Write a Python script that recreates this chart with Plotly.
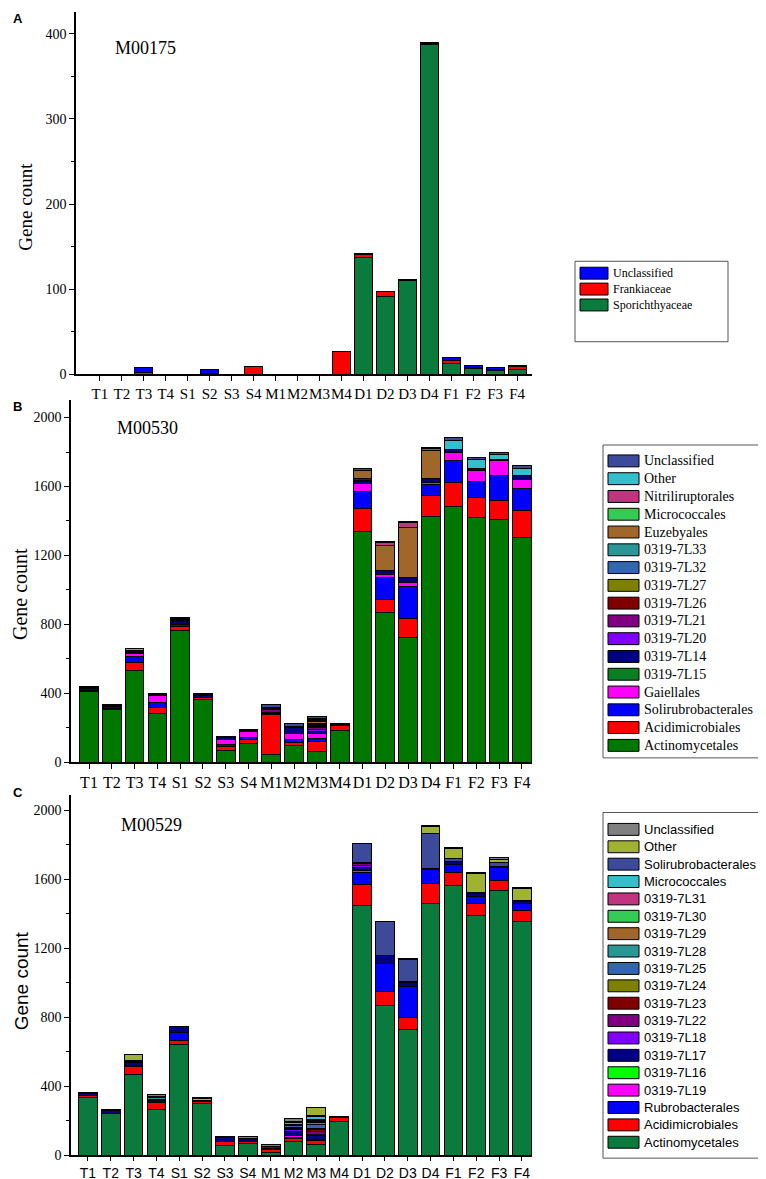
import plotly.graph_objects as go

W, H = 766, 1179
samples = ["T1", "T2", "T3", "T4", "S1", "S2", "S3", "S4", "M1", "M2", "M3", "M4",
           "D1", "D2", "D3", "D4", "F1", "F2", "F3", "F4"]

# ---------------- Panel A (M00175) ----------------
a_names = ["Sporichthyaceae", "Frankiaceae", "Unclassified"]
a_colors = ["#0A7A3D", "#FF0000", "#0000FF"]
a_sporichthyaceae = [0, 0, 2, 0, 0, 1, 0, 0, 0, 0, 0, 0, 137, 92, 110, 388, 13, 7, 5, 6]
a_frankiaceae = [0, 0, 0, 0, 0, 0, 0, 9, 0, 0, 0, 27, 4, 5, 1, 1, 4, 1, 1, 3]
a_unclassified = [0, 0, 6, 0, 0, 5, 0, 0, 0, 0, 0, 0, 1, 0, 0, 1, 3, 2, 2, 2]
a_series = [a_sporichthyaceae, a_frankiaceae, a_unclassified]

# ---------------- Panel B (M00530) ----------------
b_names = ["Actinomycetales", "Acidimicrobiales", "Solirubrobacterales", "Gaiellales",
           "0319-7L15", "0319-7L14", "0319-7L20", "0319-7L21", "0319-7L26", "0319-7L27",
           "0319-7L32", "0319-7L33", "Euzebyales", "Micrococcales", "Nitriliruptorales",
           "Other", "Unclassified"]
b_colors = ["#007800", "#FF0000", "#0000FF", "#FF00FF", "#087F22", "#000080", "#8000FF",
            "#800080", "#800000", "#808000", "#3366B0", "#2A9696", "#A0662A", "#33CC55",
            "#C0357F", "#33BFCC", "#3D4A9A"]
b_actinomycetales = [410, 307, 530, 280, 765, 365, 65, 111, 44, 96, 63, 184, 1341, 870, 722, 1427, 1485, 1418, 1406, 1302]
b_acidimicrobiales = [8, 3, 46, 35, 25, 11, 25, 19, 231, 19, 58, 27, 134, 73, 114, 119, 140, 119, 112, 160]
b_solirubrobacterales = [0, 0, 35, 31, 8, 0, 12, 14, 6, 16, 15, 0, 96, 129, 182, 68, 123, 92, 144, 125]
b_gaiellales = [0, 0, 21, 38, 6, 0, 32, 31, 0, 38, 33, 0, 48, 19, 25, 11, 50, 65, 86, 52]
b_7l15 = [0] * 20
b_7l14 = [8, 15, 6, 8, 10, 10, 8, 6, 10, 30, 8, 8, 10, 19, 29, 23, 14, 8, 10, 23]
b_7l20 = [0, 0, 0, 0, 6, 0, 0, 0, 0, 0, 10, 0, 0, 0, 0, 0, 0, 0, 0, 0]
b_7l21 = [0, 0, 4, 0, 8, 0, 0, 0, 12, 10, 12, 0, 8, 0, 0, 0, 0, 0, 0, 0]
b_7l26 = [6, 5, 0, 0, 4, 6, 0, 0, 8, 0, 8, 0, 11, 0, 0, 0, 0, 0, 0, 0]
b_7l27 = [0, 0, 0, 0, 0, 0, 0, 0, 0, 0, 6, 0, 0, 0, 0, 0, 0, 0, 0, 0]
b_7l32 = [0, 0, 5, 0, 0, 0, 0, 0, 0, 0, 8, 0, 0, 0, 0, 0, 0, 0, 0, 0]
b_7l33 = [0, 0, 0, 0, 0, 0, 0, 0, 0, 0, 6, 0, 0, 0, 0, 0, 0, 0, 0, 0]
b_euzebyales = [0, 0, 0, 0, 0, 0, 0, 0, 6, 0, 8, 0, 42, 150, 288, 160, 0, 0, 0, 0]
b_micrococcales = [0, 0, 0, 0, 0, 0, 0, 0, 0, 0, 6, 0, 0, 0, 0, 0, 0, 0, 0, 0]
b_nitriliruptorales = [0, 0, 0, 0, 0, 0, 0, 0, 0, 0, 6, 0, 0, 13, 29, 13, 0, 0, 0, 0]
b_other = [0, 0, 10, 0, 0, 0, 0, 0, 0, 0, 6, 0, 0, 0, 0, 0, 57, 56, 29, 44]
b_unclassified = [6, 4, 0, 8, 9, 8, 8, 7, 15, 18, 12, 8, 16, 6, 6, 4, 14, 11, 11, 15]
b_series = [b_actinomycetales, b_acidimicrobiales, b_solirubrobacterales, b_gaiellales,
            b_7l15, b_7l14, b_7l20, b_7l21, b_7l26, b_7l27, b_7l32, b_7l33, b_euzebyales,
            b_micrococcales, b_nitriliruptorales, b_other, b_unclassified]

# ---------------- Panel C (M00529) ----------------
c_names = ["Actinomycetales", "Acidimicrobiales", "Rubrobacterales", "0319-7L19", "0319-7L16",
           "0319-7L17", "0319-7L18", "0319-7L22", "0319-7L23", "0319-7L24", "0319-7L25",
           "0319-7L28", "0319-7L29", "0319-7L30", "0319-7L31", "Micrococcales",
           "Solirubrobacterales", "Other", "Unclassified"]
c_colors = ["#0A7A3D", "#FF0000", "#0000FF", "#FF00FF", "#00FF00", "#000080", "#8000FF",
            "#800080", "#800000", "#808000", "#3366B0", "#2A9696", "#A0662A", "#33CC55",
            "#C0357F", "#33BFCC", "#3D4A9A", "#A0B232", "#808080"]
c_actinomycetales = [336, 240, 470, 265, 643, 301, 54, 67, 13, 81, 61, 196, 1449, 869, 729, 1460, 1564, 1391, 1535, 1357]
c_acidimicrobiales = [12, 3, 42, 38, 23, 12, 23, 14, 20, 15, 25, 24, 119, 77, 71, 116, 77, 69, 56, 63]
c_rubrobacterales = [0, 0, 8, 0, 44, 0, 0, 0, 0, 4, 0, 0, 69, 167, 179, 80, 42, 41, 79, 38]
c_7l19 = [0, 0, 0, 0, 0, 0, 0, 0, 0, 15, 6, 0, 13, 0, 0, 0, 0, 0, 0, 0]
c_7l16 = [0] * 20
c_7l17 = [10, 15, 15, 12, 38, 6, 25, 18, 8, 20, 20, 0, 20, 44, 20, 4, 21, 15, 6, 14]
c_7l18 = [0, 0, 0, 0, 0, 0, 0, 0, 0, 12, 8, 0, 10, 0, 0, 0, 0, 0, 0, 0]
c_7l22 = [0, 0, 6, 0, 0, 0, 0, 0, 0, 10, 15, 0, 8, 0, 0, 0, 0, 0, 0, 0]
c_7l23 = [0, 0, 0, 0, 0, 0, 0, 0, 8, 6, 12, 0, 0, 0, 8, 0, 0, 0, 0, 0]
c_7l24 = [0, 0, 0, 0, 0, 0, 0, 0, 0, 0, 10, 0, 0, 0, 0, 0, 0, 0, 0, 0]
c_7l25 = [0, 0, 8, 10, 0, 0, 0, 0, 0, 8, 20, 0, 10, 0, 0, 0, 0, 0, 0, 0]
c_7l28 = [0, 0, 0, 8, 0, 0, 0, 0, 0, 6, 12, 0, 0, 0, 0, 0, 0, 0, 0, 0]
c_7l29 = [0, 0, 0, 0, 0, 0, 0, 0, 0, 0, 8, 0, 0, 0, 0, 0, 0, 0, 0, 0]
c_7l30 = [0, 0, 0, 0, 0, 0, 0, 0, 0, 12, 6, 0, 0, 0, 0, 0, 0, 0, 0, 0]
c_7l31 = [0, 0, 0, 0, 0, 0, 0, 0, 0, 0, 6, 0, 0, 0, 0, 0, 0, 0, 0, 0]
c_micrococcales = [0, 0, 0, 0, 0, 0, 0, 0, 0, 0, 13, 0, 0, 0, 0, 0, 0, 0, 0, 0]
c_solirubrobacterales = [0, 0, 0, 8, 0, 0, 0, 0, 0, 8, 10, 0, 106, 196, 125, 207, 14, 6, 21, 6]
c_other = [0, 0, 32, 0, 0, 10, 0, 0, 0, 0, 42, 0, 0, 0, 0, 38, 60, 109, 17, 67]
c_unclassified = [7, 7, 0, 12, 0, 7, 7, 7, 12, 14, 0, 5, 0, 0, 10, 4, 7, 6, 9, 4]
c_series = [c_actinomycetales, c_acidimicrobiales, c_rubrobacterales, c_7l19, c_7l16, c_7l17,
            c_7l18, c_7l22, c_7l23, c_7l24, c_7l25, c_7l28, c_7l29, c_7l30, c_7l31,
            c_micrococcales, c_solirubrobacterales, c_other, c_unclassified]

SERIF = "Liberation Serif"
SANS = "Liberation Sans"


def px(x):
    return x / W


def py(y):
    return 1 - y / H


fig = go.Figure()


def add_bars(names, colors, series, ax):
    for name, color, vals in zip(names, colors, series):
        fig.add_trace(go.Bar(
            x=samples, y=[v if v else None for v in vals], name=name,
            marker=dict(color=color, line=dict(color="black", width=1)),
            xaxis="x" + ax, yaxis="y" + ax, showlegend=False,
        ))


add_bars(a_names, a_colors, a_series, "")
add_bars(b_names, b_colors, b_series, "2")
add_bars(c_names, c_colors, c_series, "3")


def xaxis(dom, rng, fam, size, ticklen=5):
    return dict(domain=[px(dom[0]), px(dom[1])], range=rng, type="category",
                showline=True, linecolor="black", linewidth=1.5, mirror=False,
                ticks="outside", ticklen=ticklen, tickwidth=1.3, tickcolor="black",
                tickangle=0,
                tickfont=dict(family=fam, size=size, color="black"),
                showgrid=False, zeroline=False, fixedrange=True)


def yaxis(anchor, dom, rng, dtick, minor, size):
    return dict(domain=[py(dom[1]), py(dom[0])], range=rng, anchor=anchor,
                showline=True, linecolor="black", linewidth=1.5,
                ticks="outside", ticklen=5, tickwidth=1.3, tickcolor="black", dtick=dtick,
                minor=dict(ticks="outside", ticklen=3, dtick=minor, tickcolor="black", tickwidth=1.2),
                tickfont=dict(family=SERIF, size=size, color="black"),
                showgrid=False, zeroline=False, fixedrange=True)


fig.update_layout(
    width=W, height=H, margin=dict(l=0, r=0, t=0, b=0),
    paper_bgcolor="white", plot_bgcolor="white",
    barmode="stack", bargap=0.18, showlegend=False,
    xaxis=dict(xaxis((68, 524), [-1.09, 19.68], SERIF, 15), anchor="y"),
    yaxis=yaxis("x", (4, 369), [0, 425.6], 100, 50, 14),
    xaxis2=dict(xaxis((63, 524), [-0.79, 19.44], SERIF, 16), anchor="y2"),
    yaxis2=yaxis("x2", (395, 759.3), [0, 2100], 400, 200, 14),
    xaxis3=dict(xaxis((63, 524), [-0.74, 19.44], SANS, 14, ticklen=4), anchor="y3"),
    yaxis3=yaxis("x3", (792, 1155), [0, 2090], 400, 200, 14),
)

annotations = []
shapes = []

# panel letters, titles, y-axis titles
for letter, ly in (("A", 11), ("B", 401), ("C", 790)):
    annotations.append(dict(text="<b>%s</b>" % letter, x=px(3), y=py(ly), xref="paper", yref="paper",
                            xanchor="left", yanchor="middle", showarrow=False,
                            font=dict(family=SANS, size=13, color="black")))
for title, tx, ty in (("M00175", 105, 40), ("M00530", 107, 423), ("M00529", 111, 823)):
    annotations.append(dict(text=title, x=px(tx), y=py(ty), xref="paper", yref="paper",
                            xanchor="left", yanchor="middle", showarrow=False,
                            font=dict(family=SERIF, size=18, color="black")))
for gx, gy, fam, size in ((18, 200, SERIF, 19), (12, 590, SERIF, 20), (13, 980, SANS, 19)):
    annotations.append(dict(text="Gene count", x=px(gx), y=py(gy), xref="paper", yref="paper",
                            xanchor="center", yanchor="middle", showarrow=False, textangle=-90,
                            font=dict(family=fam, size=size, color="black")))


def add_legend(names, colors, box, first_y, step, sw, text_x, fam, size):
    x0, y0, x1, y1 = box
    shapes.append(dict(type="rect", xref="paper", yref="paper", x0=px(x0), x1=px(x1),
                       y0=py(y1), y1=py(y0), line=dict(color="#555", width=1), fillcolor="white",
                       layer="below"))
    items = list(zip(names, colors))[::-1]
    for i, (name, color) in enumerate(items):
        cy = first_y + i * step
        shapes.append(dict(type="rect", xref="paper", yref="paper", x0=px(sw[0]), x1=px(sw[1]),
                           y0=py(cy + 6), y1=py(cy - 6), line=dict(color="black", width=1),
                           fillcolor=color))
        annotations.append(dict(text=name, x=px(text_x), y=py(cy), xref="paper", yref="paper",
                                xanchor="left", yanchor="middle", showarrow=False,
                                font=dict(family=fam, size=size, color="black")))


add_legend(a_names, a_colors, (567, 255, 720, 336), 267, 16, (572, 600), 603, SERIF, 12)
add_legend(b_names, b_colors, (595, 440, 764, 755), 456, 17.9, (600, 631), 634, SERIF, 14)
add_legend(c_names, c_colors, (595, 810, 763, 1158), 827, 17.5, (600, 631), 634, SANS, 13)

fig.update_layout(annotations=annotations, shapes=shapes)
fig.write_html("out.html")
